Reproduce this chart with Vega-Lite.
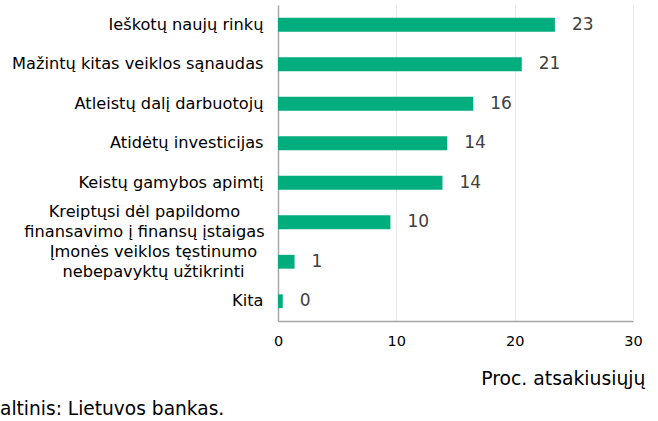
{
  "$schema": "https://vega.github.io/schema/vega-lite/v6.json",
  "width": 355,
  "height": 316,
  "autosize": "none",
  "padding": {"left": 278, "top": 5, "right": 25, "bottom": 100},
  "background": "white",
  "config": {
    "font": "DejaVu Sans",
    "view": {"stroke": null}
  },
  "title": {
    "text": "altinis: Lietuvos bankas.",
    "orient": "bottom",
    "anchor": "start",
    "frame": "group",
    "dx": -278,
    "offset": 12,
    "fontSize": 18.6,
    "fontWeight": "normal",
    "color": "#000000",
    "font": "DejaVu Sans"
  },
  "data": {
    "values": [
      {"category": "Ieškotų naujų rinkų", "value": 23.4, "label": "23"},
      {"category": "Mažintų kitas veiklos sąnaudas", "value": 20.6, "label": "21"},
      {"category": "Atleistų dalį darbuotojų", "value": 16.5, "label": "16"},
      {"category": "Atidėtų investicijas", "value": 14.3, "label": "14"},
      {"category": "Keistų gamybos apimtį", "value": 13.9, "label": "14"},
      {"category": "Kreiptųsi dėl papildomo finansavimo į finansų įstaigas", "value": 9.5, "label": "10"},
      {"category": "Įmonės veiklos tęstinumo nebepavyktų užtikrinti", "value": 1.4, "label": "1"},
      {"category": "Kita", "value": 0.4, "label": "0"}
    ]
  },
  "encoding": {
    "y": {
      "field": "category",
      "type": "nominal",
      "sort": null,
      "scale": {"paddingInner": 0.65, "paddingOuter": 0.325},
      "axis": {
        "title": null,
        "ticks": false,
        "grid": false,
        "domainColor": "#a6a6a6",
        "domainWidth": 1.5,
        "labelFontSize": 16.2,
        "labelColor": "#000000",
        "labelLimit": 300,
        "labelLineHeight": 20,
        "labelOffset": {"condition": {"test": "length(datum.value) > 40", "value": -10}, "value": 0},
        "labelAlign": {"condition": {"test": "length(datum.value) > 40", "value": "center"}, "value": "right"},
        "labelPadding": {"condition": [
          {"test": "datum.value == 'Kreiptųsi dėl papildomo finansavimo į finansų įstaigas'", "value": 134},
          {"test": "datum.value == 'Įmonės veiklos tęstinumo nebepavyktų užtikrinti'", "value": 125}
        ], "value": 15},
        "labelExpr": "datum.value == 'Kreiptųsi dėl papildomo finansavimo į finansų įstaigas' ? ['Kreiptųsi dėl papildomo', 'finansavimo į finansų įstaigas'] : datum.value == 'Įmonės veiklos tęstinumo nebepavyktų užtikrinti' ? ['Įmonės veiklos tęstinumo', 'nebepavyktų užtikrinti'] : datum.value"
      }
    },
    "x": {
      "field": "value",
      "type": "quantitative",
      "scale": {"domain": [0, 30], "nice": false},
      "axis": {
        "values": [0, 10, 20, 30],
        "title": "Proc. atsakiusiųjų",
        "titleFontSize": 18.8,
        "titleFontWeight": "normal",
        "titleColor": "#000000",
        "titleAnchor": "end",
        "titleAlign": "right",
        "titleBaseline": "alphabetic",
        "titleX": 367,
        "titleY": 63,
        "ticks": false,
        "grid": true,
        "gridColor": "#e8e8e8",
        "domainColor": "#a6a6a6",
        "domainWidth": 1.5,
        "labelFontSize": 14.5,
        "labelColor": "#000000",
        "labelPadding": 13,
        "labelFlush": false
      }
    }
  },
  "layer": [
    {
      "mark": {"type": "bar", "color": "#00ae7d"}
    },
    {
      "mark": {"type": "text", "align": "left", "baseline": "middle", "dx": 17, "fontSize": 17, "color": "#404040"},
      "encoding": {"text": {"field": "label"}}
    }
  ]
}
